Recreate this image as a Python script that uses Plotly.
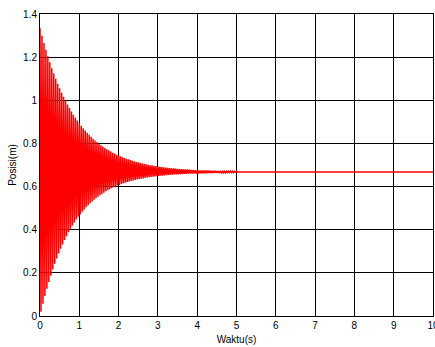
import numpy as np
import plotly.graph_objects as go

# Upper peaks of the response, read at t = 0.00, 0.05, ..., 5.00 s
upper_peaks = [1.334, 1.299, 1.266, 1.234, 1.204, 1.176, 1.149, 1.124, 1.100, 1.077,
               1.056, 1.035, 1.016, 0.998, 0.980, 0.964, 0.948, 0.933, 0.919, 0.906,
               0.894, 0.882, 0.870, 0.860, 0.850, 0.840, 0.831, 0.822, 0.814, 0.806,
               0.799, 0.792, 0.786, 0.779, 0.773, 0.768, 0.763, 0.757, 0.753, 0.748,
               0.744, 0.740, 0.736, 0.732, 0.729, 0.726, 0.723, 0.720, 0.717, 0.714,
               0.712, 0.710, 0.707, 0.705, 0.703, 0.701, 0.699, 0.698, 0.696, 0.695,
               0.693, 0.692, 0.690, 0.689, 0.688, 0.687, 0.686, 0.685, 0.684, 0.683,
               0.682, 0.681, 0.681, 0.680, 0.679, 0.679, 0.678, 0.677, 0.677, 0.676,
               0.676, 0.675, 0.675, 0.675, 0.674, 0.674, 0.674, 0.673, 0.673, 0.673,
               0.672, 0.672, 0.672, 0.671, 0.671, 0.671, 0.671, 0.671, 0.671, 0.670,
               0.670]
# Lower peaks, read at t = 0.025, 0.075, ..., 4.975 s
lower_peaks = [0.020, 0.057, 0.093, 0.126, 0.158, 0.187, 0.215, 0.242, 0.266, 0.290,
               0.312, 0.332, 0.352, 0.370, 0.388, 0.404, 0.419, 0.434, 0.447, 0.460,
               0.472, 0.483, 0.494, 0.504, 0.514, 0.523, 0.531, 0.539, 0.546, 0.553,
               0.560, 0.566, 0.572, 0.578, 0.583, 0.588, 0.592, 0.597, 0.601, 0.605,
               0.608, 0.612, 0.615, 0.618, 0.621, 0.624, 0.626, 0.628, 0.631, 0.633,
               0.635, 0.637, 0.638, 0.640, 0.642, 0.643, 0.645, 0.646, 0.647, 0.648,
               0.649, 0.650, 0.651, 0.652, 0.653, 0.654, 0.655, 0.655, 0.656, 0.657,
               0.657, 0.658, 0.658, 0.659, 0.659, 0.660, 0.660, 0.660, 0.661, 0.661,
               0.661, 0.662, 0.662, 0.662, 0.662, 0.663, 0.663, 0.663, 0.663, 0.664,
               0.664, 0.664, 0.664, 0.664, 0.664, 0.665, 0.665, 0.665, 0.665, 0.666]
# Settled tail
tail_t = [5.03, 10.0]
tail_v = [0.667, 0.667]

upper_t = np.round(np.arange(len(upper_peaks)) * 0.05, 3)
lower_t = np.round(0.025 + np.arange(len(lower_peaks)) * 0.05, 3)

t = []
v = []
for i in range(len(upper_peaks)):
    t.append(float(upper_t[i])); v.append(upper_peaks[i])
    if i < len(lower_peaks):
        t.append(float(lower_t[i])); v.append(lower_peaks[i])
t += tail_t
v += tail_v

x_ticks = list(range(0, 11))
y_ticks = [0, 0.2, 0.4, 0.6, 0.8, 1, 1.2, 1.4]
y_tick_text = ["0", "0.2", "0.4", "0.6", "0.8", "1", "1.2", "1.4"]

fig = go.Figure()
fig.add_trace(go.Scatter(x=t, y=v, mode="lines",
                         line=dict(color="#ff0000", width=1.5),
                         showlegend=False))

axis_font = dict(family="Liberation Sans, Arial, sans-serif", size=10, color="black")
fig.update_layout(
    width=435, height=347,
    margin=dict(l=40, r=2, t=14, b=31),
    paper_bgcolor="white", plot_bgcolor="white",
    font=axis_font,
    xaxis=dict(range=[0, 10], tickvals=x_ticks, ticktext=[str(x) for x in x_ticks],
               showgrid=True, gridcolor="black", gridwidth=1, zeroline=False,
               showline=True, linecolor="black", linewidth=1, mirror=True,
               ticks="", tickfont=axis_font, ticklabeloverflow="allow",
               automargin=False,
               title=dict(text="Waktu(s)", font=axis_font, standoff=5)),
    yaxis=dict(range=[0, 1.4], tickvals=y_ticks, ticktext=y_tick_text,
               showgrid=True, gridcolor="black", gridwidth=1, zeroline=False,
               showline=True, linecolor="black", linewidth=1, mirror=True,
               ticks="", tickfont=axis_font, automargin=False,
               title=dict(text="Posisi(m)", font=axis_font, standoff=4)),
)

fig.write_html("out.html")
